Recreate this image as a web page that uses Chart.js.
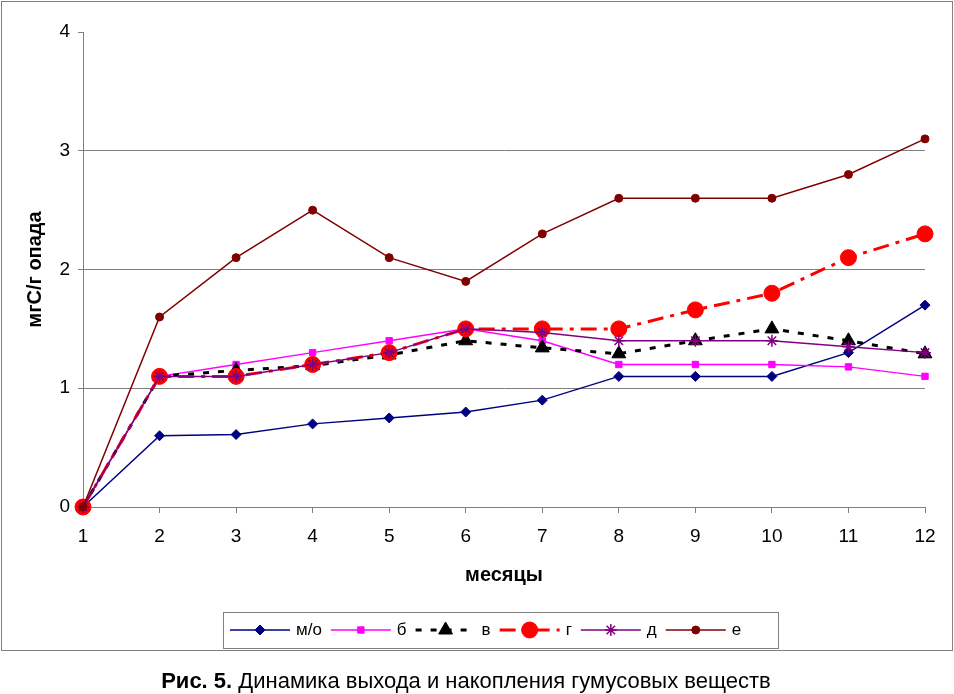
<!DOCTYPE html>
<html>
<head>
<meta charset="utf-8">
<script src="https://cdn.jsdelivr.net/npm/chart.js@4"></script>
<style>
  body { margin: 0; background: #fff; }
  #wrap { position: relative; width: 954px; height: 694px; }
</style>
</head>
<body>
<div id="wrap"><canvas id="chart" width="954" height="694"></canvas></div>
<script>
// months and series
const months = ['1', '2', '3', '4', '5', '6', '7', '8', '9', '10', '11', '12'];
const mo = [0, 0.6, 0.61, 0.7, 0.75, 0.8, 0.9, 1.1, 1.1, 1.1, 1.3, 1.7];
const b = [0, 1.1, 1.2, 1.3, 1.4, 1.5, 1.4, 1.2, 1.2, 1.2, 1.18, 1.1];
const v = [0, 1.1, 1.15, 1.19, 1.28, 1.4, 1.34, 1.29, 1.4, 1.5, 1.4, 1.29];
const g = [0, 1.1, 1.1, 1.2, 1.3, 1.5, 1.5, 1.5, 1.66, 1.8, 2.1, 2.3];
const d = [0, 1.1, 1.1, 1.2, 1.3, 1.5, 1.47, 1.4, 1.4, 1.4, 1.35, 1.3];
const e = [0, 1.6, 2.1, 2.5, 2.1, 1.9, 2.3, 2.6, 2.6, 2.6, 2.8, 3.1];
const seriesNames = ['м/о', 'б', 'в', 'г', 'д', 'е'];
const yTicks = [0, 1, 2, 3, 4];

const FONT = 'Liberation Sans, Arial, sans-serif';

const styles = [
    { color: '#000080', width: 1.5, dash: [], point: 'rectRot', r: 5 },
    { color: '#FF00FF', width: 1.5, dash: [], point: 'rect', r: 4.5 },
    { color: '#000000', width: 3, dash: [6, 9], point: 'triangle', r: 8 },
    { color: '#FF0000', width: 3, dash: [16, 7, 4, 7], point: 'circle', r: 8 },
    { color: '#800080', width: 1.5, dash: [], point: 'star', r: 6 },
    { color: '#800000', width: 1.5, dash: [], point: 'circle', r: 4 }
];

const datasets = [mo, b, v, g, d, e].map((vals, i) => ({
    label: seriesNames[i],
    data: vals,
    borderColor: styles[i].color,
    backgroundColor: styles[i].color,
    borderWidth: styles[i].width,
    borderDash: styles[i].dash,
    pointStyle: styles[i].point,
    pointRadius: styles[i].r,
    pointHoverRadius: styles[i].r,
    pointBorderWidth: styles[i].point === 'star' ? 1.5 : 1,
    tension: 0,
    clip: false,
    order: 5 - i
}));

// frame, legend box and caption
const extras = {
    id: 'extras',
    afterDraw(chart) {
        const ctx = chart.ctx;
        ctx.save();
        ctx.strokeStyle = '#808080';
        ctx.lineWidth = 1;
        ctx.strokeRect(1.5, 1.5, 951, 649);

        // legend
        ctx.font = '17px ' + FONT;
        const lineLen = 60, gapText = 6, gapItem = 9;
        const widths = seriesNames.map(n => ctx.measureText(n).width);
        const boxL = 223, boxR = 778, boxT = 612, boxB = 648;
        ctx.strokeRect(boxL + 0.5, boxT + 0.5, boxR - boxL, boxB - boxT);
        let x = boxL + 7;
        const yMid = (boxT + boxB) / 2;
        styles.forEach((s, i) => {
            ctx.save();
            ctx.strokeStyle = s.color;
            ctx.lineWidth = s.width;
            ctx.setLineDash(s.dash);
            ctx.beginPath();
            ctx.moveTo(x, yMid);
            ctx.lineTo(x + lineLen, yMid);
            ctx.stroke();
            ctx.setLineDash([]);
            ctx.fillStyle = s.color;
            ctx.lineWidth = s.point === 'star' ? 1.5 : 1;
            Chart.helpers.drawPoint(ctx, { pointStyle: s.point, radius: s.r, rotation: 0, borderWidth: ctx.lineWidth }, x + lineLen / 2, yMid);
            ctx.restore();
            ctx.fillStyle = '#000';
            ctx.textBaseline = 'middle';
            ctx.textAlign = 'left';
            ctx.fillText(seriesNames[i], x + lineLen + gapText, yMid);
            x += lineLen + gapText + widths[i] + gapItem;
        });

        // caption
        const boldPart = 'Рис. 5.';
        const restPart = ' Динамика выхода и накопления гумусовых веществ';
        ctx.font = 'bold 22px ' + FONT;
        const w1 = ctx.measureText(boldPart).width;
        ctx.font = '22px ' + FONT;
        const w2 = ctx.measureText(restPart).width;
        let cx = 466 - (w1 + w2) / 2;
        ctx.fillStyle = '#000';
        ctx.textBaseline = 'middle';
        ctx.font = 'bold 22px ' + FONT;
        ctx.fillText(boldPart, cx, 682);
        ctx.font = '22px ' + FONT;
        ctx.fillText(restPart, cx + w1, 682);
        ctx.restore();
    }
};

new Chart(document.getElementById('chart'), {
    type: 'line',
    data: { labels: months, datasets: datasets },
    options: {
        responsive: false,
        animation: false,
        layout: { padding: { left: 19, right: 29, top: 32, bottom: 103 } },
        plugins: {
            legend: { display: false },
            tooltip: { enabled: false }
        },
        scales: {
            x: {
                type: 'category',
                offset: false,
                afterFit: s => { s.height = 84; },
                grid: { drawOnChartArea: false, color: '#808080', tickLength: 6 },
                border: { color: '#808080' },
                ticks: { color: '#000', padding: 12, maxRotation: 0, font: { family: FONT, size: 19 } },
                title: { display: true, text: 'месяцы', color: '#000', font: { family: FONT, size: 20, weight: 'bold' } }
            },
            y: {
                min: 0,
                max: 4,
                afterFit: s => { s.width = 64; },
                afterBuildTicks: s => { s.ticks = yTicks.map(t => ({ value: t })); },
                grid: {
                    color: c => (c.tick && c.tick.value === 4) ? 'rgba(0,0,0,0)' : '#808080',
                    tickColor: '#808080',
                    tickLength: 5
                },
                border: { color: '#808080' },
                ticks: { color: '#000', padding: 8, font: { family: FONT, size: 19 } },
                title: { display: true, text: 'мгС/г опада', color: '#000', font: { family: FONT, size: 20, weight: 'bold' } }
            }
        }
    },
    plugins: [extras]
});
</script>
</body>
</html>
